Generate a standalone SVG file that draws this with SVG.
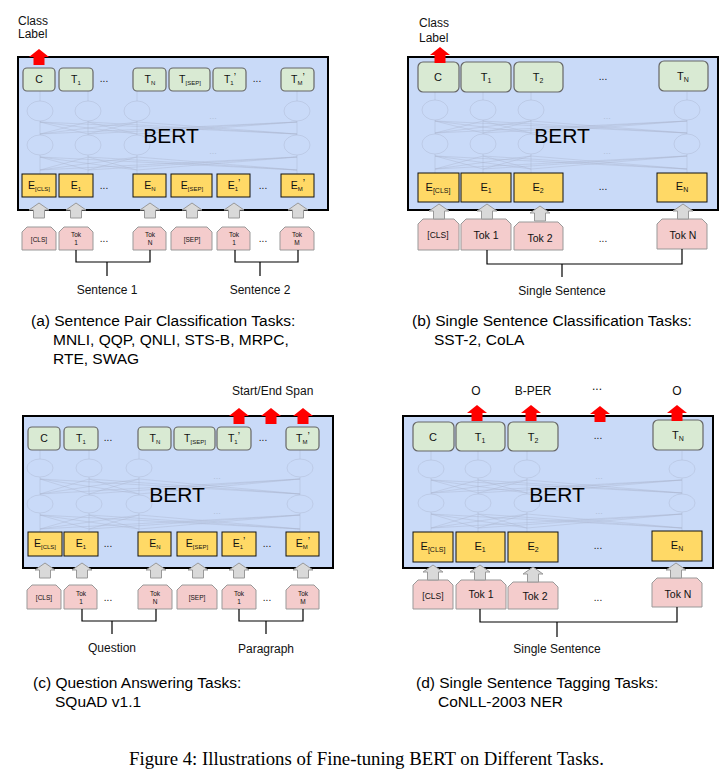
<svg xmlns="http://www.w3.org/2000/svg" xmlns:xlink="http://www.w3.org/1999/xlink" width="721" height="773" viewBox="0 0 721 773">
<style>
text{font-family:"Liberation Sans",Arial,sans-serif;fill:#111}
.bert{fill:#c9daf8;stroke:#000;stroke-width:2}
.t{fill:#d9ead3;stroke:#666;stroke-width:1.2}
.e{fill:#ffd966;stroke:#111;stroke-width:1}
.tok{fill:#f4cccc;stroke:#999;stroke-width:1}
.ga{fill:#d9d9d9;stroke:#999;stroke-width:1}
.ra{fill:#ff0000}
.ghost{fill:none;stroke:#a9b5cc;stroke-width:0.8;opacity:0.5}
.gdots{font-size:9px;fill:#a9b5cc;text-anchor:middle;opacity:0.7}
.br{fill:none;stroke:#000;stroke-width:1.2}
.s{font-size:10.5px;text-anchor:middle}
.m{font-size:11px;text-anchor:middle}
.sub{font-size:6px}
.sub2{font-size:7px}
.tk{font-size:6.5px;text-anchor:middle}
.tk2{font-size:10.5px;text-anchor:middle}
.cls2{font-size:8.5px;text-anchor:middle}
.dots{font-size:10px;text-anchor:middle}
.lab{font-size:12px;text-anchor:middle}
.labs{font-size:12px}
.big{font-size:21px;text-anchor:middle;fill:#000}
.cap{font-size:15.5px;fill:#000}
.fig{font-family:"Liberation Serif","Times New Roman",serif;font-size:18.8px;fill:#000}
</style>
<defs>
<path id="garrow" class="ga" d="M0 0 L10 7 L5.5 7 L5.5 15 L-5.5 15 L-5.5 7 L-10 7 Z"/>
<path id="rarrow" class="ra" d="M0 0 L10 8 L5.5 8 L5.5 16 L-5.5 16 L-5.5 8 L-10 8 Z"/>
</defs>

<!-- ================= Panel (a) ================= -->
<g id="panel-a">
<g id="a-bert"><rect class="bert" x="18" y="57" width="310" height="153"/>
<path class="ghost" d="M40 91V101M88 91V101M137 91V101M297 91V101
M40 121V135M88 121V135M137 121V135M297 121V135
M40 134L88 122M40 134L137 122M40 134L297 122M88 134L40 122M88 134L137 122M88 134L297 122M137 134L40 122M137 134L88 122M137 134L297 122M297 134L40 122M297 134L88 122M297 134L137 122
M40 155V174M88 155V174M137 155V174M297 155V174
M40 170L88 157M40 170L137 157M40 170L297 157M88 170L40 157M88 170L137 157M88 170L297 157M137 170L40 157M137 170L88 157M137 170L297 157M297 170L40 157M297 170L88 157M297 170L137 157"/>
<ellipse class="ghost" cx="40" cy="111" rx="13" ry="10"/><ellipse class="ghost" cx="88" cy="111" rx="13" ry="10"/><ellipse class="ghost" cx="137" cy="111" rx="13" ry="10"/><ellipse class="ghost" cx="297" cy="111" rx="13" ry="10"/>
<ellipse class="ghost" cx="40" cy="145" rx="13" ry="10"/><ellipse class="ghost" cx="88" cy="145" rx="13" ry="10"/><ellipse class="ghost" cx="137" cy="145" rx="13" ry="10"/><ellipse class="ghost" cx="297" cy="145" rx="13" ry="10"/>
<text class="gdots" x="213" y="119">...</text><text class="gdots" x="213" y="154">...</text>
<text class="big" x="171" y="143">BERT</text></g>
<g id="a-C"><rect class="t" x="23" y="68" width="32" height="23" rx="4"/><text class="s" x="39" y="83">C</text></g>
<g id="a-T1"><rect class="t" x="59" y="68" width="34" height="23" rx="4"/><text class="s" x="76" y="83">T<tspan class="sub" dy="2">1</tspan></text></g>
<text class="dots" x="104" y="82">...</text>
<g id="a-TN"><rect class="t" x="133" y="68" width="33" height="23" rx="4"/><text class="s" x="150" y="83">T<tspan class="sub" dy="2">N</tspan></text></g>
<g id="a-TSEP"><rect class="t" x="169" y="68" width="41" height="23" rx="4"/><text class="s" x="190" y="83">T<tspan class="sub" dy="2">[SEP]</tspan></text></g>
<g id="a-T1p"><rect class="t" x="213" y="68" width="33" height="23" rx="4"/><text class="s" x="230" y="83">T<tspan class="sub" dy="2">1</tspan><tspan dy="-4">’</tspan></text></g>
<text class="dots" x="257" y="82">...</text>
<g id="a-TMp"><rect class="t" x="281" y="68" width="33" height="23" rx="4"/><text class="s" x="298" y="83">T<tspan class="sub" dy="2">M</tspan><tspan dy="-4">’</tspan></text></g>
<g id="a-ECLS"><rect class="e" x="22" y="174" width="34" height="23"/><text class="s" x="39" y="189">E<tspan class="sub" dy="2">[CLS]</tspan></text></g>
<g id="a-E1"><rect class="e" x="59" y="174" width="34" height="23"/><text class="s" x="76" y="189">E<tspan class="sub" dy="2">1</tspan></text></g>
<text class="dots" x="104" y="189">...</text>
<g id="a-EN"><rect class="e" x="133" y="174" width="33" height="23"/><text class="s" x="150" y="189">E<tspan class="sub" dy="2">N</tspan></text></g>
<g id="a-ESEP"><rect class="e" x="171" y="174" width="41" height="23"/><text class="s" x="192" y="189">E<tspan class="sub" dy="2">[SEP]</tspan></text></g>
<g id="a-E1p"><rect class="e" x="217" y="174" width="33" height="23"/><text class="s" x="234" y="189">E<tspan class="sub" dy="2">1</tspan><tspan dy="-4">’</tspan></text></g>
<text class="dots" x="263" y="189">...</text>
<g id="a-EMp"><rect class="e" x="281" y="174" width="33" height="23"/><text class="s" x="298" y="189">E<tspan class="sub" dy="2">M</tspan><tspan dy="-4">’</tspan></text></g>
<g id="a-tCLS"><path class="tok" d="M22 232l5 -5h24l5 5v18h-34z"/><text class="tk" x="39" y="242">[CLS]</text></g>
<g id="a-tok1"><path class="tok" d="M59 232l5 -5h24l5 5v18h-34z"/><text class="tk" x="76" y="237">Tok</text><text class="tk" x="76" y="245">1</text></g>
<text class="dots" x="104" y="242">...</text>
<g id="a-tokN"><path class="tok" d="M133 232l5 -5h23l5 5v18h-33z"/><text class="tk" x="150" y="237">Tok</text><text class="tk" x="150" y="245">N</text></g>
<g id="a-tSEP"><path class="tok" d="M171 232l5 -5h31l5 5v18h-41z"/><text class="tk" x="192" y="242">[SEP]</text></g>
<g id="a-tok1p"><path class="tok" d="M217 232l5 -5h23l5 5v18h-33z"/><text class="tk" x="234" y="237">Tok</text><text class="tk" x="234" y="245">1</text></g>
<text class="dots" x="263" y="242">...</text>
<g id="a-tokM"><path class="tok" d="M280 232l5 -5h24l5 5v18h-34z"/><text class="tk" x="297" y="237">Tok</text><text class="tk" x="297" y="245">M</text></g>
<g id="a-class"><text class="labs" x="18" y="25">Class</text><text class="labs" x="18" y="38">Label</text></g>
<text class="lab" x="107" y="294">Sentence 1</text>
<text class="lab" x="260" y="294">Sentence 2</text>
<text class="cap" x="31" y="326">(a) Sentence Pair Classification Tasks:</text>
<text class="cap" x="53" y="345">MNLI, QQP, QNLI, STS-B, MRPC,</text>
<text class="cap" x="53" y="364">RTE, SWAG</text>
</g>

<!-- ================= Panel (b) ================= -->
<g id="panel-b">
<g id="b-bert"><rect class="bert" x="408" y="57" width="310" height="153"/>
<path class="ghost" d="M435 92V100M483 92V100M531 92V100M687 92V100
M435 120V134M483 120V134M531 120V134M687 120V134
M435 133L483 121M435 133L531 121M435 133L687 121M483 133L435 121M483 133L531 121M483 133L687 121M531 133L435 121M531 133L483 121M531 133L687 121M687 133L435 121M687 133L483 121M687 133L531 121
M435 154V173M483 154V173M531 154V173M687 154V173
M435 169L483 156M435 169L531 156M435 169L687 156M483 169L435 156M483 169L531 156M483 169L687 156M531 169L435 156M531 169L483 156M531 169L687 156M687 169L435 156M687 169L483 156M687 169L531 156"/>
<ellipse class="ghost" cx="435" cy="110" rx="13" ry="10"/><ellipse class="ghost" cx="483" cy="110" rx="13" ry="10"/><ellipse class="ghost" cx="531" cy="110" rx="13" ry="10"/><ellipse class="ghost" cx="687" cy="110" rx="13" ry="10"/>
<ellipse class="ghost" cx="435" cy="144" rx="13" ry="10"/><ellipse class="ghost" cx="483" cy="144" rx="13" ry="10"/><ellipse class="ghost" cx="531" cy="144" rx="13" ry="10"/><ellipse class="ghost" cx="687" cy="144" rx="13" ry="10"/>
<text class="gdots" x="607" y="119">...</text><text class="gdots" x="607" y="154">...</text>
<text class="big" x="562" y="143">BERT</text></g>
<g id="b-C"><rect class="t" x="418" y="62" width="41" height="30" rx="5"/><text class="m" x="438" y="81">C</text></g>
<g id="b-T1"><rect class="t" x="461" y="62" width="50" height="30" rx="5"/><text class="m" x="486" y="81">T<tspan class="sub2" dy="2">1</tspan></text></g>
<g id="b-T2"><rect class="t" x="514" y="62" width="49" height="30" rx="5"/><text class="m" x="538" y="81">T<tspan class="sub2" dy="2">2</tspan></text></g>
<text class="dots" x="603" y="80">...</text>
<g id="b-TN"><rect class="t" x="659" y="61" width="49" height="30" rx="5"/><text class="m" x="683" y="80">T<tspan class="sub2" dy="2">N</tspan></text></g>
<g id="b-ECLS"><rect class="e" x="418" y="173" width="41" height="29"/><text class="m" x="438" y="191">E<tspan class="sub2" dy="2">[CLS]</tspan></text></g>
<g id="b-E1"><rect class="e" x="461" y="173" width="50" height="29"/><text class="m" x="486" y="191">E<tspan class="sub2" dy="2">1</tspan></text></g>
<g id="b-E2"><rect class="e" x="514" y="173" width="49" height="29"/><text class="m" x="538" y="191">E<tspan class="sub2" dy="2">2</tspan></text></g>
<text class="dots" x="603" y="190">...</text>
<g id="b-EN"><rect class="e" x="657" y="173" width="50" height="29"/><text class="m" x="682" y="190">E<tspan class="sub2" dy="2">N</tspan></text></g>
<g id="b-tCLS"><path class="tok" d="M418 224l5 -5h31l5 5v26h-41z"/><text class="cls2" x="438" y="238">[CLS]</text></g>
<g id="b-tok1"><path class="tok" d="M461 224l5 -5h40l5 5v26h-50z"/><text class="tk2" x="486" y="239">Tok 1</text></g>
<g id="b-tok2"><path class="tok" d="M514 227l5 -5h39l5 5v23h-49z"/><text class="tk2" x="540" y="242">Tok 2</text></g>
<text class="dots" x="603" y="242">...</text>
<g id="b-tokN"><path class="tok" d="M657 224l5 -5h40l5 5v25h-50z"/><text class="tk2" x="683" y="239">Tok N</text></g>
<g id="b-class"><text class="labs" x="419" y="27">Class</text><text class="labs" x="419" y="42">Label</text></g>
<text class="lab" x="562" y="295">Single Sentence</text>
<text class="cap" x="412" y="326">(b) Single Sentence Classification Tasks:</text>
<text class="cap" x="434" y="345">SST-2, CoLA</text>
</g>

<!-- ================= Panel (c) ================= -->
<g id="panel-c">
<g id="c-bert"><rect class="bert" x="23" y="416" width="310" height="152"/>
<path class="ghost" d="M40 450V459M89 450V459M139 450V459M300 450V459
M40 477V495M89 477V495M139 477V495M300 477V495
M40 494L89 479M40 494L139 479M40 494L300 479M89 494L40 479M89 494L139 479M89 494L300 479M139 494L40 479M139 494L89 479M139 494L300 479M300 494L40 479M300 494L89 479M300 494L139 479
M40 513V532M89 513V532M139 513V532M300 513V532
M40 529L89 515M40 529L139 515M40 529L300 515M89 529L40 515M89 529L139 515M89 529L300 515M139 529L40 515M139 529L89 515M139 529L300 515M300 529L40 515M300 529L89 515M300 529L139 515"/>
<ellipse class="ghost" cx="40" cy="468" rx="13" ry="9"/><ellipse class="ghost" cx="89" cy="468" rx="13" ry="9"/><ellipse class="ghost" cx="139" cy="468" rx="13" ry="9"/><ellipse class="ghost" cx="300" cy="468" rx="13" ry="9"/>
<ellipse class="ghost" cx="40" cy="504" rx="13" ry="9"/><ellipse class="ghost" cx="89" cy="504" rx="13" ry="9"/><ellipse class="ghost" cx="139" cy="504" rx="13" ry="9"/><ellipse class="ghost" cx="300" cy="504" rx="13" ry="9"/>
<text class="gdots" x="217" y="479">...</text><text class="gdots" x="217" y="514">...</text>
<text class="big" x="177" y="502">BERT</text></g>
<g id="c-C"><rect class="t" x="28" y="427" width="32" height="23" rx="4"/><text class="s" x="44" y="442">C</text></g>
<g id="c-T1"><rect class="t" x="64" y="427" width="34" height="23" rx="4"/><text class="s" x="81" y="442">T<tspan class="sub" dy="2">1</tspan></text></g>
<text class="dots" x="108" y="441">...</text>
<g id="c-TN"><rect class="t" x="138" y="427" width="33" height="23" rx="4"/><text class="s" x="155" y="442">T<tspan class="sub" dy="2">N</tspan></text></g>
<g id="c-TSEP"><rect class="t" x="174" y="427" width="41" height="23" rx="4"/><text class="s" x="195" y="442">T<tspan class="sub" dy="2">[SEP]</tspan></text></g>
<g id="c-T1p"><rect class="t" x="217" y="427" width="34" height="23" rx="4"/><text class="s" x="234" y="442">T<tspan class="sub" dy="2">1</tspan><tspan dy="-4">’</tspan></text></g>
<text class="dots" x="263" y="441">...</text>
<g id="c-TMp"><rect class="t" x="286" y="427" width="33" height="23" rx="4"/><text class="s" x="303" y="442">T<tspan class="sub" dy="2">M</tspan><tspan dy="-4">’</tspan></text></g>
<g id="c-ECLS"><rect class="e" x="28" y="532" width="34" height="24"/><text class="s" x="45" y="547">E<tspan class="sub" dy="2">[CLS]</tspan></text></g>
<g id="c-E1"><rect class="e" x="64" y="532" width="34" height="24"/><text class="s" x="81" y="547">E<tspan class="sub" dy="2">1</tspan></text></g>
<text class="dots" x="108" y="547">...</text>
<g id="c-EN"><rect class="e" x="138" y="532" width="33" height="24"/><text class="s" x="155" y="547">E<tspan class="sub" dy="2">N</tspan></text></g>
<g id="c-ESEP"><rect class="e" x="177" y="532" width="40" height="24"/><text class="s" x="197" y="547">E<tspan class="sub" dy="2">[SEP]</tspan></text></g>
<g id="c-E1p"><rect class="e" x="222" y="532" width="34" height="24"/><text class="s" x="239" y="547">E<tspan class="sub" dy="2">1</tspan><tspan dy="-4">’</tspan></text></g>
<text class="dots" x="267" y="547">...</text>
<g id="c-EMp"><rect class="e" x="286" y="532" width="33" height="24"/><text class="s" x="303" y="547">E<tspan class="sub" dy="2">M</tspan><tspan dy="-4">’</tspan></text></g>
<g id="c-tCLS"><path class="tok" d="M27 590l5 -5h24l5 5v19h-34z"/><text class="tk" x="44" y="600">[CLS]</text></g>
<g id="c-tok1"><path class="tok" d="M64 590l5 -5h23l5 5v19h-33z"/><text class="tk" x="81" y="596">Tok</text><text class="tk" x="81" y="604">1</text></g>
<text class="dots" x="108" y="601">...</text>
<g id="c-tokN"><path class="tok" d="M138 590l5 -5h24l5 5v19h-34z"/><text class="tk" x="155" y="596">Tok</text><text class="tk" x="155" y="604">N</text></g>
<g id="c-tSEP"><path class="tok" d="M177 590l5 -5h30l5 5v19h-40z"/><text class="tk" x="197" y="600">[SEP]</text></g>
<g id="c-tok1p"><path class="tok" d="M222 590l5 -5h24l5 5v19h-34z"/><text class="tk" x="239" y="596">Tok</text><text class="tk" x="239" y="604">1</text></g>
<text class="dots" x="267" y="601">...</text>
<g id="c-tokM"><path class="tok" d="M286 590l5 -5h23l5 5v19h-33z"/><text class="tk" x="303" y="596">Tok</text><text class="tk" x="303" y="604">M</text></g>
<text class="labs" x="232" y="395">Start/End Span</text>
<text class="lab" x="112" y="652">Question</text>
<text class="lab" x="266" y="653">Paragraph</text>
<text class="cap" x="33" y="688">(c) Question Answering Tasks:</text>
<text class="cap" x="55" y="707">SQuAD v1.1</text>
</g>

<!-- ================= Panel (d) ================= -->
<g id="panel-d">
<g id="d-bert"><rect class="bert" x="403" y="416" width="310" height="152"/>
<path class="ghost" d="M431 451V460M478 451V460M527 451V460M682 451V460
M431 478V494M478 478V494M527 478V494M682 478V494
M431 493L478 480M431 493L527 480M431 493L682 480M478 493L431 480M478 493L527 480M478 493L682 480M527 493L431 480M527 493L478 480M527 493L682 480M682 493L431 480M682 493L478 480M682 493L527 480
M431 512V532M478 512V532M527 512V532M682 512V532
M431 528L478 514M431 528L527 514M431 528L682 514M478 528L431 514M478 528L527 514M478 528L682 514M527 528L431 514M527 528L478 514M527 528L682 514M682 528L431 514M682 528L478 514M682 528L527 514"/>
<ellipse class="ghost" cx="431" cy="469" rx="13" ry="9"/><ellipse class="ghost" cx="478" cy="469" rx="13" ry="9"/><ellipse class="ghost" cx="527" cy="469" rx="13" ry="9"/><ellipse class="ghost" cx="682" cy="469" rx="13" ry="9"/>
<ellipse class="ghost" cx="431" cy="503" rx="13" ry="9"/><ellipse class="ghost" cx="478" cy="503" rx="13" ry="9"/><ellipse class="ghost" cx="527" cy="503" rx="13" ry="9"/><ellipse class="ghost" cx="682" cy="503" rx="13" ry="9"/>
<text class="gdots" x="599" y="479">...</text><text class="gdots" x="599" y="514">...</text>
<text class="big" x="557" y="502">BERT</text></g>
<g id="d-C"><rect class="t" x="413" y="422" width="41" height="29" rx="5"/><text class="m" x="433" y="441">C</text></g>
<g id="d-T1"><rect class="t" x="456" y="422" width="49" height="29" rx="5"/><text class="m" x="480" y="441">T<tspan class="sub2" dy="2">1</tspan></text></g>
<g id="d-T2"><rect class="t" x="508" y="422" width="50" height="29" rx="5"/><text class="m" x="533" y="441">T<tspan class="sub2" dy="2">2</tspan></text></g>
<text class="dots" x="598" y="439">...</text>
<g id="d-TN"><rect class="t" x="653" y="420" width="50" height="30" rx="5"/><text class="m" x="678" y="439">T<tspan class="sub2" dy="2">N</tspan></text></g>
<g id="d-ECLS"><rect class="e" x="413" y="532" width="40" height="30"/><text class="m" x="433" y="550">E<tspan class="sub2" dy="2">[CLS]</tspan></text></g>
<g id="d-E1"><rect class="e" x="456" y="532" width="49" height="30"/><text class="m" x="480" y="550">E<tspan class="sub2" dy="2">1</tspan></text></g>
<g id="d-E2"><rect class="e" x="508" y="532" width="50" height="30"/><text class="m" x="533" y="550">E<tspan class="sub2" dy="2">2</tspan></text></g>
<text class="dots" x="598" y="549">...</text>
<g id="d-EN"><rect class="e" x="652" y="531" width="50" height="30"/><text class="m" x="677" y="549">E<tspan class="sub2" dy="2">N</tspan></text></g>
<g id="d-tCLS"><path class="tok" d="M413 585l5 -5h30l5 5v24h-40z"/><text class="cls2" x="433" y="599">[CLS]</text></g>
<g id="d-tok1"><path class="tok" d="M456 585l5 -5h40l5 5v24h-50z"/><text class="tk2" x="481" y="598">Tok 1</text></g>
<g id="d-tok2"><path class="tok" d="M508 587l5 -5h40l5 5v22h-50z"/><text class="tk2" x="535" y="600">Tok 2</text></g>
<text class="dots" x="598" y="601">...</text>
<g id="d-tokN"><path class="tok" d="M652 583l5 -5h40l5 5v24h-50z"/><text class="tk2" x="678" y="598">Tok N</text></g>
<text class="lab" x="476" y="395">O</text>
<text class="lab" x="533" y="395">B-PER</text>
<text class="lab" x="597" y="390">...</text>
<text class="lab" x="677" y="395">O</text>
<text class="lab" x="557" y="653">Single Sentence</text>
<text class="cap" x="416" y="688">(d) Single Sentence Tagging Tasks:</text>
<text class="cap" x="438" y="707">CoNLL-2003 NER</text>
</g>

<!-- ================= Connectors ================= -->
<g id="connectors">
<use xlink:href="#garrow" x="39" y="203"/><use xlink:href="#garrow" x="76" y="203"/><use xlink:href="#garrow" x="150" y="203"/><use xlink:href="#garrow" x="192" y="203"/><use xlink:href="#garrow" x="234" y="203"/><use xlink:href="#garrow" x="298" y="203"/>
<use xlink:href="#garrow" x="439" y="204"/><use xlink:href="#garrow" x="487" y="204"/><use xlink:href="#garrow" x="540" y="206"/><use xlink:href="#garrow" x="683" y="204"/>
<use xlink:href="#garrow" x="45" y="563"/><use xlink:href="#garrow" x="82" y="563"/><use xlink:href="#garrow" x="156" y="563"/><use xlink:href="#garrow" x="198" y="563"/><use xlink:href="#garrow" x="239" y="563"/><use xlink:href="#garrow" x="303" y="563"/>
<use xlink:href="#garrow" x="433" y="565"/><use xlink:href="#garrow" x="480" y="565"/><use xlink:href="#garrow" x="533" y="567"/><use xlink:href="#garrow" x="676" y="563"/>
<use xlink:href="#rarrow" x="39" y="49"/>
<use xlink:href="#rarrow" x="440" y="47"/>
<use xlink:href="#rarrow" x="239" y="408"/><use xlink:href="#rarrow" x="271" y="408"/><use xlink:href="#rarrow" x="303" y="408"/>
<use xlink:href="#rarrow" x="477" y="405"/><use xlink:href="#rarrow" x="531" y="405"/><use xlink:href="#rarrow" x="600" y="406"/><use xlink:href="#rarrow" x="677" y="405"/>
<path class="br" d="M76 250V262H150V250M107 262V276"/>
<path class="br" d="M235 250V262H298V250M260 262V276"/>
<path class="br" d="M487 250V264H682V249M562 264V277"/>
<path class="br" d="M82 609V621H156V609M112 621V634"/>
<path class="br" d="M239 609V621H303V609M266 621V634"/>
<path class="br" d="M480 609V622H677V607M557 622V637"/>
</g>

<text class="fig" x="129" y="765">Figure 4: Illustrations of Fine-tuning BERT on Different Tasks.</text>
</svg>
